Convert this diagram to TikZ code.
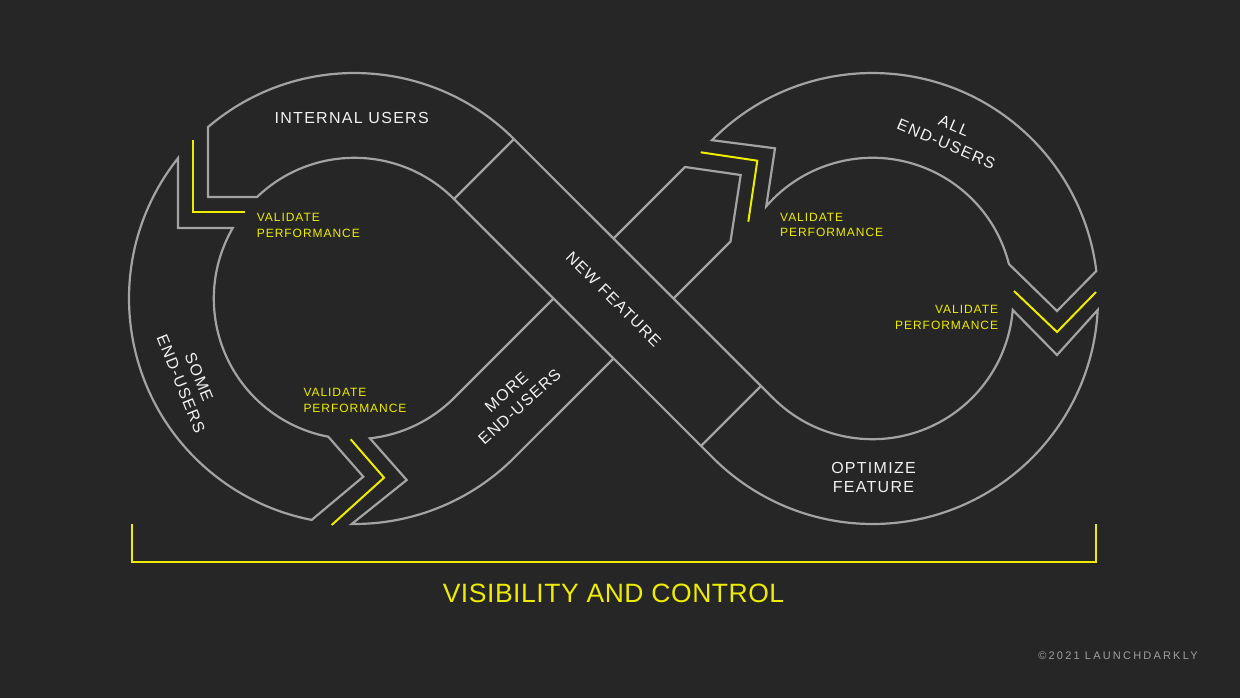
\documentclass[tikz,border=0pt]{standalone}
\usepackage{fontspec}
\setmainfont{Liberation Sans}
\newfontfamily\labfont[LetterSpace=8]{Liberation Sans}
\newfontfamily\visfont[LetterSpace=2]{Liberation Sans}
\newfontfamily\cpyfont[LetterSpace=20]{Liberation Sans}
\usetikzlibrary{calc}
\definecolor{bgc}{RGB}{38,38,38}
\definecolor{linec}{RGB}{163,163,163}
\definecolor{yelc}{RGB}{238,236,0}
\definecolor{txtc}{RGB}{242,242,242}
\definecolor{cpyc}{RGB}{160,160,160}
\begin{document}
\begin{tikzpicture}[x=1pt,y=-1pt,
  band/.style={draw=linec,line width=2.2pt,line join=miter,miter limit=10},
  yline/.style={draw=yelc,line width=2pt},
  lbl/.style={text=txtc,font=\labfont\fontsize{16}{19.5}\selectfont,align=center,inner sep=0pt},
  vlbl/.style={text=yelc,font=\labfont\fontsize{12}{15.6}\selectfont,inner sep=0pt}]
\fill[bgc] (0,0) rectangle (1240,698);
\useasboundingbox (0,0) rectangle (1240,698);

\coordinate (L) at (354.5,298.5);
\coordinate (R) at (872.5,298.5);
\coordinate (Ri135) at ($(R)+(135:140.7)$);
\coordinate (Ro3) at ($(R)+(2.92:225.5)$);
\coordinate (Li45) at ($(L)+(-45:140.7)$);
\coordinate (Lo45) at ($(L)+(-45:225.5)$);
\coordinate (Lo130) at ($(L)+(-130.52:225.5)$);

% band A strand: internal users, new feature, optimize feature
\draw[band] (Ri135)
  arc[start angle=135,end angle=4.69,radius=140.7]
  -- (1057,355) -- (Ro3)
  arc[start angle=2.92,end angle=135,radius=225.5]
  -- (Li45)
  arc[start angle=-45,end angle=-133.83,radius=140.7]
  -- (208,197) -- (Lo130)
  arc[start angle=-130.52,end angle=-45,radius=225.5]
  -- cycle;
\draw[band] (Lo45) -- (Li45);
\coordinate (Da) at (761,386);
\coordinate (Db) at (701,446);
\draw[band] (Da) -- (Db);

% some end-users
\coordinate (So) at ($(L)+(218.5:225.5)$);
\coordinate (Si) at ($(L)+(100.73:140.7)$);
\coordinate (Stip) at (363.3,476.7);
\coordinate (Scorner) at (178,228);
\draw[band] (So) arc[start angle=218.5,end angle=100.94,radius=225.5]
  -- (Stip) -- (Si)
  arc[start angle=100.73,end angle=210.07,radius=140.7]
  -- (Scorner) -- cycle;

% more end-users
\coordinate (M1) at (553.5,298.5);
\coordinate (Mi) at ($(L)+(45:140.7)$);
\coordinate (Mtip) at (406.7,480);
\coordinate (Mo) at ($(L)+(90.7:225.5)$);
\coordinate (M2) at (613.5,358.5);
\draw[band] (M1) -- (Mi) arc[start angle=45,end angle=83.7,radius=140.7]
  -- (Mtip) -- (Mo) arc[start angle=90.7,end angle=45,radius=225.5] -- (M2);

% arrow head of the rising band
\coordinate (B1) at (613.5,238.5);
\coordinate (B2) at (685,167);
\coordinate (B3) at (740.7,175);
\coordinate (B4) at (730.5,241.5);
\coordinate (B5) at (673.5,298.5);
\draw[band] (B1) -- (B2) -- (B3) -- (B4) -- (B5);

% all end-users
\coordinate (Ao) at ($(R)+(224.6:225.5)$);
\coordinate (Atip) at (1057,311);
\coordinate (Ai) at ($(R)+(345.82:140.7)$);
\coordinate (Anotch) at (775,148.3);
\draw[band] (Ao) arc[start angle=224.6,end angle=353,radius=225.5]
  -- (Atip) -- (Ai)
  arc[start angle=345.82,end angle=220.95,radius=140.7]
  -- (Anotch) -- cycle;

% yellow marks
\coordinate (Y1a) at (193,140); \coordinate (Y1b) at (193,212); \coordinate (Y1c) at (245,212);
\draw[yline] (Y1a) -- (Y1b) -- (Y1c);
\coordinate (Y2a) at (350.7,439.3); \coordinate (Y2b) at (384,477.7); \coordinate (Y2c) at (331.7,525);
\draw[yline] (Y2a) -- (Y2b) -- (Y2c);
\coordinate (Y3a) at (700.7,152.3); \coordinate (Y3b) at (757.3,160.7); \coordinate (Y3c) at (748.3,221.7);
\draw[yline] (Y3a) -- (Y3b) -- (Y3c);
\coordinate (Y4a) at (1014,291); \coordinate (Y4b) at (1057,332); \coordinate (Y4c) at (1096,292);
\draw[yline] (Y4a) -- (Y4b) -- (Y4c);
\coordinate (K1) at (131.5,524); \coordinate (K2) at (131.5,561.5);
\coordinate (K3) at (1095.5,561.5); \coordinate (K4) at (1095.5,524);
\draw[yline] (K1) -- (K2) -- (K3) -- (K4);

% labels
\node[lbl] (internal) at (351.7,118.4) {INTERNAL USERS};
\node[lbl,rotate=-23] (allend) at (950,135) {ALL\\END-USERS};
\node[lbl,rotate=-68] (someend) at (190,380.5) {SOME\\END-USERS};
\node[lbl,rotate=42] (moreend) at (513,399.5) {MORE\\END-USERS};
\node[lbl,rotate=-45] (newf) at (613.5,299) {NEW FEATURE};
\node[lbl] (optf) at (873.5,477.5) {OPTIMIZE\\FEATURE};
\node[vlbl,anchor=north west,align=left] (v1) at (256.7,213.3) {VALIDATE\\PERFORMANCE};
\node[vlbl,anchor=north west,align=left] (v2) at (303.3,388.3) {VALIDATE\\PERFORMANCE};
\node[vlbl,anchor=north west,align=left] (v3) at (780,212.7) {VALIDATE\\PERFORMANCE};
\node[vlbl,anchor=north east,align=right] (v4) at (998.3,305) {VALIDATE\\PERFORMANCE};
\node[text=yelc,font=\visfont\fontsize{26.5}{30}\selectfont,inner sep=0pt] (vis) at (613.5,593.3) {VISIBILITY AND CONTROL};
\node[text=cpyc,font=\cpyfont\fontsize{11}{13}\selectfont,inner sep=0pt] (cpy) at (1118,655.5) {©2021 LAUNCHDARKLY};
\end{tikzpicture}
\end{document}
